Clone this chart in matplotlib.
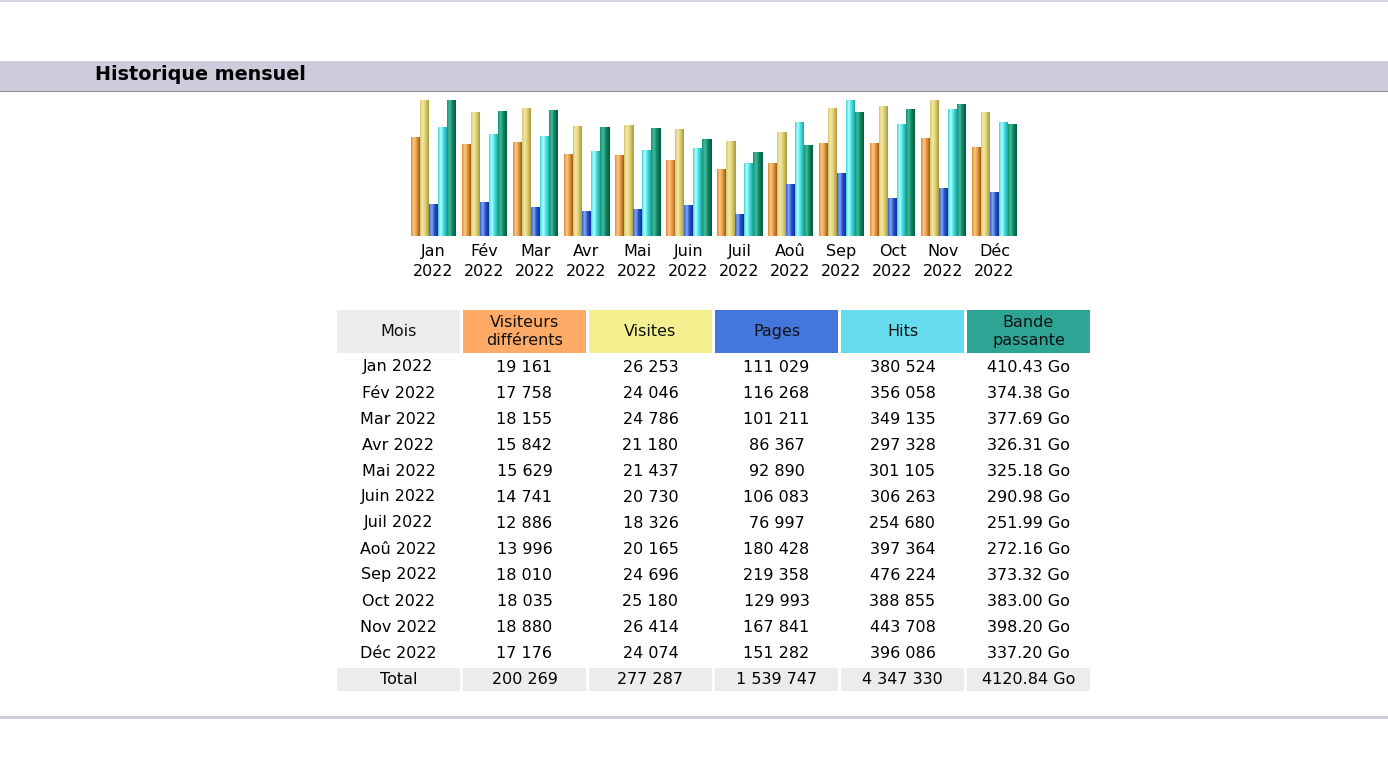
import numpy as np
import matplotlib
matplotlib.use("Agg")
import matplotlib.pyplot as plt
from matplotlib.patches import Rectangle
from matplotlib.colors import LinearSegmentedColormap

# Données du tableau (Historique mensuel 2022)
months = ["Jan", "Fév", "Mar", "Avr", "Mai", "Juin", "Juil", "Aoû", "Sep", "Oct", "Nov", "Déc"]
year = "2022"
visitors = [19161, 17758, 18155, 15842, 15629, 14741, 12886, 13996, 18010, 18035, 18880, 17176]
visits = [26253, 24046, 24786, 21180, 21437, 20730, 18326, 20165, 24696, 25180, 26414, 24074]
pages = [111029, 116268, 101211, 86367, 92890, 106083, 76997, 180428, 219358, 129993, 167841, 151282]
hits = [380524, 356058, 349135, 297328, 301105, 306263, 254680, 397364, 476224, 388855, 443708, 396086]
bandwidth = [410.43, 374.38, 377.69, 326.31, 325.18, 290.98, 251.99, 272.16, 373.32, 383.00, 398.20, 337.20]

headers = ["Mois", "Visiteurs\ndifférents", "Visites", "Pages", "Hits", "Bande\npassante"]
header_colors = ["#ececec", "#ffaa66", "#f4f090", "#4477dd", "#66ddee", "#2ea495"]

# dégradés "cylindre" des barres
bar_grads = [
    ["#e08a2c", "#f9c98a", "#e79a45", "#9c5a10"],
    ["#d6c670", "#f3eaa6", "#dccb72", "#a89a3c"],
    ["#2f5fd0", "#86aaf2", "#2a4fc8", "#0f2f9e"],
    ["#3dd6d6", "#b4ffff", "#45e0e0", "#1fa4a4"],
    ["#0f9676", "#46ba9a", "#0e8262", "#005c3c"],
]

W, H = 1388, 758
fig = plt.figure(figsize=(W / 100, H / 100), dpi=100)

# calque de fond en pixels
bg = fig.add_axes([0, 0, 1, 1])
bg.set_xlim(0, W)
bg.set_ylim(H, 0)
bg.axis("off")

bg.add_patch(Rectangle((0, 0), W, 2, color="#d4d4e2", lw=0))
bg.add_patch(Rectangle((0, 61), W, 30, color="#ccccdd", lw=0))
bg.add_patch(Rectangle((0, 90.5), W, 1.2, color="#8a8a99", lw=0))
bg.text(95, 74.5, "Historique mensuel", fontsize=13.8, fontweight="bold",
        ha="left", va="center", color="black")
bg.add_patch(Rectangle((0, 716), W, 3, color="#ccccdd", lw=0))

# tableau
col_x0 = 337
col_w = 123
col_pitch = 126
header_top, header_h = 310, 43
row_y0, row_step = 367, 26

def fmt(v):
    return f"{v:,}".replace(",", " ")

rows = []
for i, m in enumerate(months):
    rows.append([f"{m} {year}", fmt(visitors[i]), fmt(visits[i]), fmt(pages[i]),
                 fmt(hits[i]), f"{bandwidth[i]:.2f} Go"])
total = ["Total", fmt(sum(visitors)), fmt(sum(visits)), fmt(sum(pages)),
         fmt(sum(hits)), f"{sum(bandwidth):.2f} Go"]

for c, (hd, hc) in enumerate(zip(headers, header_colors)):
    x0 = col_x0 + c * col_pitch
    cx = x0 + col_w / 2
    bg.add_patch(Rectangle((x0, header_top), col_w, header_h, color=hc, lw=0))
    bg.text(cx, header_top + header_h / 2, hd, fontsize=11.5, ha="center",
            va="center", linespacing=1.3, color="#111111")
    for r, row in enumerate(rows):
        bg.text(cx, row_y0 + r * row_step, row[c], fontsize=11.5, ha="center",
                va="center", color="black")
    bg.add_patch(Rectangle((x0, 668), col_w, 23, color="#ececec", lw=0))
    bg.text(cx, 679.5, total[c], fontsize=11.5, ha="center", va="center", color="black")

# graphique en barres
ax = fig.add_axes([411 / W, (H - 236) / H, 606 / W, 136 / H])
ax.set_facecolor("none")
series = [
    np.array(visitors) / max(visits),
    np.array(visits) / max(visits),
    np.array(pages) / max(hits),
    np.array(hits) / max(hits),
    np.array(bandwidth) / max(bandwidth),
]
group = np.arange(len(months))
bw = 9 / 51
for j, vals in enumerate(series):
    cmap = LinearSegmentedColormap.from_list(f"g{j}", list(zip([0, 0.3, 0.62, 1], bar_grads[j])))
    bars = ax.bar(group + j * bw, vals, width=bw, align="edge",
                  color=bar_grads[j][0], lw=0, zorder=1)
    for b in bars:
        im = ax.imshow(np.linspace(0, 1, 64).reshape(1, -1), cmap=cmap, aspect="auto",
                       extent=[b.get_x(), b.get_x() + b.get_width(), 0, b.get_height()],
                       interpolation="bilinear", zorder=2)

ax.set_xlim(0, 11 + 5 * bw)
ax.set_ylim(0, 1)
ax.set_xticks(group + 2.5 * bw)
ax.set_xticklabels([f"{m}\n{year}" for m in months], fontsize=11.5, linespacing=1.45)
ax.tick_params(axis="x", length=0, pad=5.5)
ax.set_yticks([])
for s in ax.spines.values():
    s.set_visible(False)

fig.savefig("out.png", dpi=100)
